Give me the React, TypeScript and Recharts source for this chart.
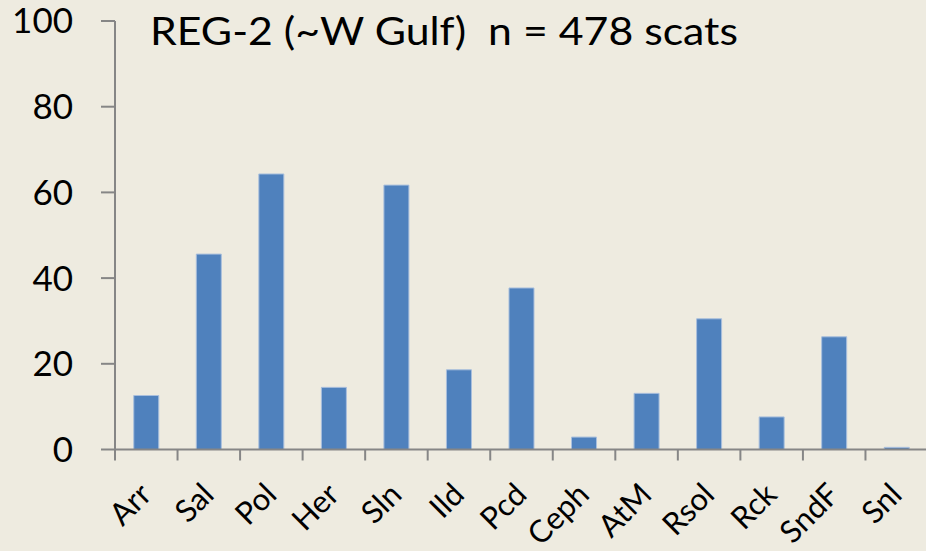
import React from 'react';
import { BarChart, Bar, XAxis, YAxis } from 'recharts';

const categories = ['Arr', 'Sal', 'Pol', 'Her', 'Sln', 'Ild', 'Pcd', 'Ceph', 'AtM', 'Rsol', 'Rck', 'SndF', 'Snl'];
const percents = [12.6, 45.6, 64.3, 14.5, 61.7, 18.6, 37.7, 2.9, 13.1, 30.5, 7.6, 26.3, 0.5];
const yTicks = [0, 20, 40, 60, 80, 100];
const title = 'REG-2 (~W Gulf)  n = 478 scats';

const data = categories.map((name, i) => ({ name, value: percents[i] }));

const FONT = 'Lato, "Open Sans", sans-serif';
const AXIS = '#868686';
const BG = '#EEEBE0';

const CHART_W = 928;
const CHART_H = 551;
const LEFT = 115;
const BAND = (CHART_W - LEFT) / categories.length;

// tick marks sit between categories, labels at the centre
const XTick = (props: any) => {
  const { x, y, payload } = props;
  const half = payload && payload.offset ? payload.offset : BAND / 2;
  const lx = x + 7;
  const ly = y + 47;
  return (
    <g>
      <line x1={x - half} y1={y} x2={x - half} y2={y + 11} stroke={AXIS} strokeWidth={2} />
      <text
        x={lx}
        y={ly}
        transform={`rotate(-45, ${lx}, ${ly})`}
        textAnchor="end"
        fontSize={31}
        fontFamily={FONT}
        fill="#000"
      >
        {payload.value}
      </text>
    </g>
  );
};

export default function App() {
  return (
    <div style={{ position: 'absolute', left: 0, top: 0, width: 926, height: 551, overflow: 'hidden', background: BG }}>
      <BarChart
        width={CHART_W}
        height={CHART_H}
        data={data}
        margin={{ top: 21, right: 0, bottom: 0, left: 0 }}
        barCategoryGap="30%"
      >
        <XAxis
          dataKey="name"
          interval={0}
          height={101.5}
          tickSize={0}
          tickMargin={0}
          tickLine={false}
          axisLine={{ stroke: AXIS, strokeWidth: 2 }}
          tick={<XTick />}
        />
        <YAxis
          width={LEFT}
          domain={[0, 100]}
          ticks={yTicks}
          interval={0}
          tickSize={14}
          tickMargin={28}
          axisLine={{ stroke: AXIS, strokeWidth: 2 }}
          tickLine={{ stroke: AXIS, strokeWidth: 2 }}
          tick={{ fontSize: 35, fontFamily: FONT, fill: '#000' }}
        />
        <Bar dataKey="value" fill="#4F81BD" stroke="#A9BFDD" strokeWidth={1} isAnimationActive={false} />
      </BarChart>
      <svg width={926} height={70} style={{ position: 'absolute', left: 0, top: 0 }}>
        <text
          x={150}
          y={45}
          fontSize={38}
          fontFamily={FONT}
          fill="#000"
          textLength={588}
          lengthAdjust="spacingAndGlyphs"
          style={{ whiteSpace: 'pre' }}
        >
          {title}
        </text>
      </svg>
    </div>
  );
}
